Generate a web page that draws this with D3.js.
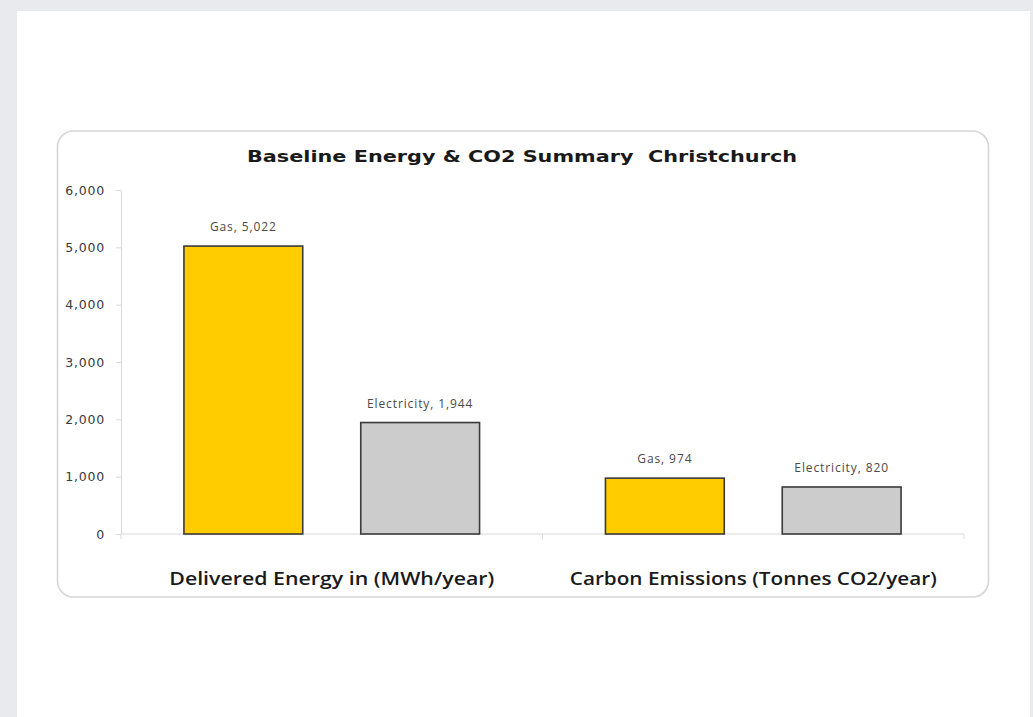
<!DOCTYPE html>
<html><head><meta charset="utf-8">
<script src="https://cdn.jsdelivr.net/npm/d3@7"></script>
<style>html,body{margin:0;padding:0;background:#e9eaee;}</style>
</head><body>
<svg id="c" width="1033" height="717"></svg>
<script>
const categories = ["Delivered Energy in (MWh/year)", "Carbon Emissions (Tonnes CO2/year)"];
const seriesNames = ["Gas", "Electricity"];
const gasValues = [5022, 974];
const electricityValues = [1944, 820];
const yTicks = [0, 1000, 2000, 3000, 4000, 5000, 6000];
const title = "Baseline Energy & CO2 Summary  Christchurch";
const colors = {"Gas": "#ffcc00", "Electricity": "#cccccc"};

const svg = d3.select("#c");
svg.append("rect").attr("x",17).attr("y",11).attr("width",1013).attr("height",706).attr("fill","#ffffff");

// chart frame
svg.append("rect").attr("x",57.5).attr("y",131).attr("width",931).attr("height",466)
  .attr("rx",16).attr("fill","#ffffff").attr("stroke","#d6d6d6").attr("stroke-width",1.6);

const x0 = d3.scaleBand().domain(categories).range([121, 964]).paddingInner(0).paddingOuter(0);
const x1 = d3.scaleBand().domain(seriesNames).range([0, x0.bandwidth()]).paddingInner(0.328).paddingOuter(0.356);
const y = d3.scaleLinear().domain([0, 6000]).range([534, 190]);

// title
svg.append("text").attr("x",522).attr("y",162).attr("text-anchor","middle")
  .attr("font-family","DejaVu Sans, Verdana, sans-serif").attr("font-weight","bold")
  .attr("font-size",15.5).attr("fill","#1a1a1a")
  .attr("textLength",550).attr("lengthAdjust","spacingAndGlyphs").style("white-space","pre").text(title);

// y axis
const yAxis = d3.axisLeft(y).tickValues(yTicks).tickFormat(d3.format(",")).tickSizeInner(5).tickSizeOuter(0).tickPadding(11);
const gy = svg.append("g").attr("transform","translate(121,0)").call(yAxis);
gy.select(".domain").attr("stroke","#d9d9d9");
gy.selectAll(".tick line").attr("stroke","#d9d9d9");
gy.selectAll(".tick text").attr("font-family","DejaVu Sans, Verdana, sans-serif").attr("font-size",12.5)
  .attr("letter-spacing","0.8px").attr("fill","#3a3a3a");

// x axis
const gx = svg.append("g").attr("transform","translate(0,534)");
gx.append("line").attr("x1",121).attr("x2",964).attr("y1",0).attr("y2",0).attr("stroke","#d9d9d9");
[121, 121 + x0.bandwidth(), 964].forEach(px => {
  gx.append("line").attr("x1",px).attr("x2",px).attr("y1",0).attr("y2",5).attr("stroke","#d9d9d9");
});
const catWidths = [325, 367];
categories.forEach((c,i) => {
  gx.append("text").attr("x", x0(c) + x0.bandwidth()/2).attr("y", 51).attr("text-anchor","middle")
    .attr("font-family","Open Sans, Noto Sans, sans-serif").attr("font-weight","600").attr("font-size",18)
    .attr("textLength", catWidths[i]).attr("lengthAdjust","spacingAndGlyphs")
    .attr("fill","#1a1a1a").text(c);
});

// bars
const data = [];
categories.forEach((c,i) => {
  data.push({cat:c, series:"Gas", value:gasValues[i]});
  data.push({cat:c, series:"Electricity", value:electricityValues[i]});
});
svg.append("g").selectAll("rect").data(data).join("rect")
  .attr("x", d => x0(d.cat) + x1(d.series))
  .attr("y", d => y(d.value))
  .attr("width", x1.bandwidth())
  .attr("height", d => y(0) - y(d.value))
  .attr("fill", d => colors[d.series])
  .attr("stroke", "#3a3a3a").attr("stroke-width", 1.6);

svg.append("g").selectAll("text").data(data).join("text")
  .attr("x", d => x0(d.cat) + x1(d.series) + x1.bandwidth()/2)
  .attr("y", d => y(d.value) - 15)
  .attr("text-anchor","middle")
  .attr("font-family","Open Sans, Noto Sans, sans-serif").attr("font-size",12).attr("letter-spacing","0.9px").attr("fill","#4a4a4a")
  .text(d => d.series + ", " + d3.format(",")(d.value));
</script>
</body></html>
